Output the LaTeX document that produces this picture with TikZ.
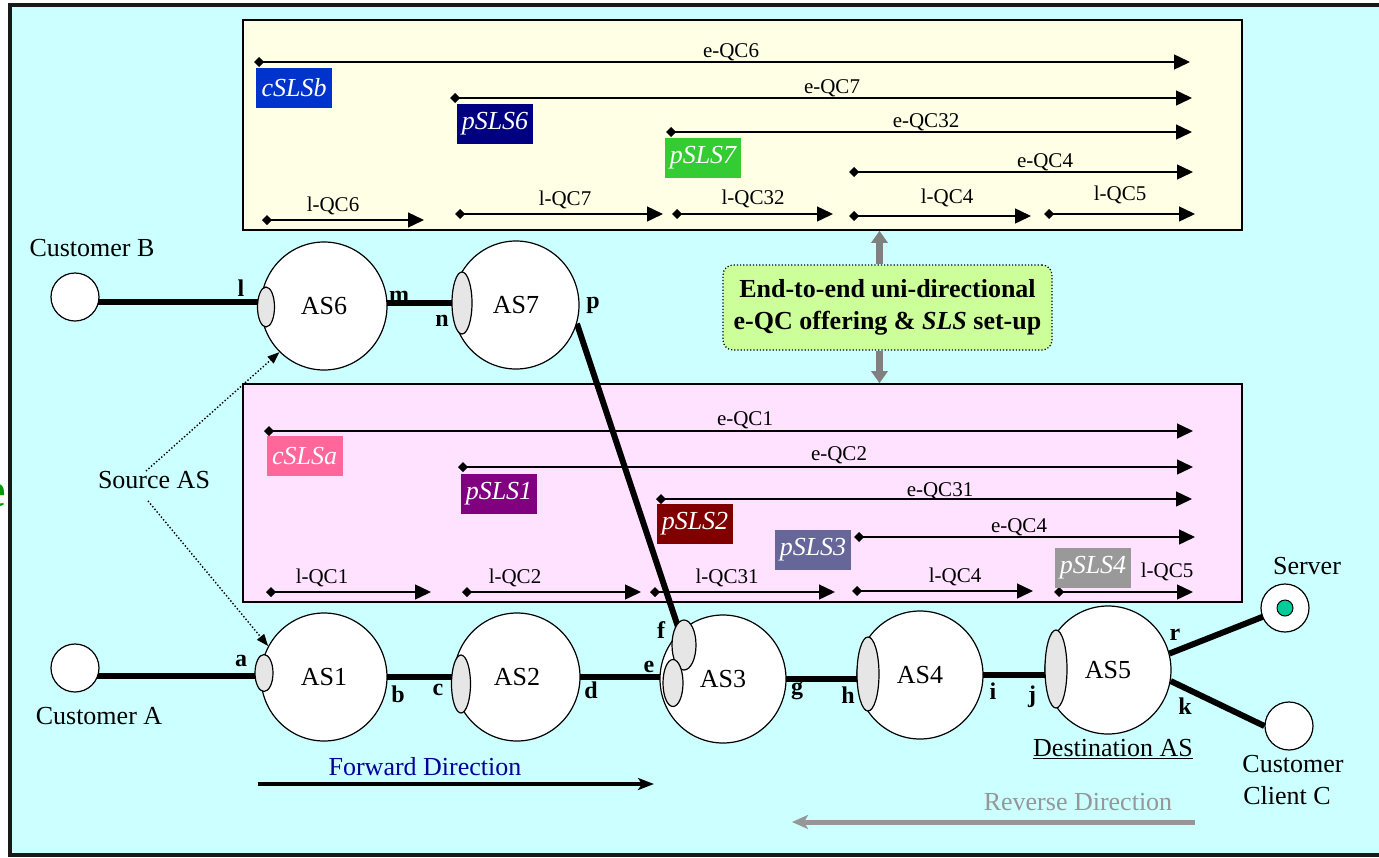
\documentclass[tikz,border=0pt]{standalone}
\usepackage{fontspec}
\setmainfont{Liberation Serif}
\usetikzlibrary{arrows.meta,shapes.geometric}
\pgfdeclarelayer{backlayer}
\pgfdeclarelayer{linklayer}
\pgfsetlayers{backlayer,linklayer,main}
\definecolor{cyanbg}{RGB}{204,255,255}
\definecolor{ybg}{RGB}{255,255,230}
\definecolor{pbg}{RGB}{255,226,255}
\definecolor{gbg}{RGB}{204,255,153}
\definecolor{portgray}{RGB}{230,230,230}
\definecolor{slsB}{RGB}{0,51,204}
\definecolor{slsSix}{RGB}{0,0,128}
\definecolor{slsSeven}{RGB}{51,204,51}
\definecolor{slsA}{RGB}{255,102,153}
\definecolor{slsOne}{RGB}{128,0,128}
\definecolor{slsTwo}{RGB}{128,0,0}
\definecolor{slsThree}{RGB}{102,102,153}
\definecolor{slsFour}{RGB}{153,153,153}
\definecolor{fwdblue}{RGB}{0,0,153}
\definecolor{revgray}{RGB}{150,150,150}
\definecolor{arrgray}{RGB}{128,128,128}
\definecolor{srvgreen}{RGB}{0,204,153}
\definecolor{edgegreen}{RGB}{0,153,0}
% name, x start (diamond centre), x tip, y, label, label x, label rise
\newcommand\qcarrow[7]{%
  \coordinate (#1s) at (#2-5,#4);
  \coordinate (#1e) at (#3,#4);
  \draw[qc] (#1s) -- (#1e);
  \node[qclab] (#1l) at (#6,#4-#7) {#5};
}
\tikzset{
  qc/.style={line width=1.4pt, {Diamond[length=10pt,width=10pt]}-{Triangle[length=16pt,width=15pt]}},
  qclab/.style={font=\fontsize{21}{25}\selectfont, inner sep=0pt, anchor=base},
  slsbox/.style={fill=#1, text=white, font=\fontsize{26}{30}\selectfont\itshape, minimum width=76pt, minimum height=40pt, inner sep=0pt},
  asnode/.style={ellipse, draw, fill=white, line width=1.2pt, minimum width=126pt, minimum height=128pt, inner sep=0pt, font=\fontsize{26}{30}\selectfont},
  port/.style 2 args={ellipse, draw, fill=portgray, line width=1.2pt, minimum width=#1, minimum height=#2, inner sep=0pt},
  cust/.style={circle, draw, fill=white, line width=1.2pt, minimum size=48pt, inner sep=0pt},
  lbl/.style={font=\fontsize{26}{30}\selectfont, inner sep=0pt},
  letter/.style={font=\fontsize{24}{28}\selectfont\bfseries, inner sep=0pt},
  link/.style={line width=6pt},
  srcarrow/.style={dotted, line width=1.4pt, -{Triangle[length=12pt,width=9pt]}},
  grayarrow/.style={draw=arrgray, line width=7pt, -{Triangle[length=12pt,width=16pt]}},
  panel/.style={draw, line width=1.6pt, minimum width=999pt, inner sep=0pt},
  midbox/.style={draw, dotted, line width=1.2pt, rounded corners=10pt, fill=gbg, minimum width=329pt, minimum height=85pt, align=center, inner sep=0pt, font=\fontsize{26}{32}\selectfont\bfseries},
}
\begin{document}
\begin{tikzpicture}[x=1pt,y=-1pt]
\useasboundingbox (0,0) rectangle (1379,857);

\begin{pgfonlayer}{backlayer}
  % stray glyph at the left edge
  \node[anchor=east, inner sep=0pt, text=edgegreen, font=\fontsize{48}{50}\selectfont\bfseries] (edgee) at (6,495) {e};
  % outer frame
  \draw[line width=4pt, draw=black!90, fill=cyanbg] (10,5) rectangle (1400,855);
  % panels
  \node[panel, fill=ybg, minimum height=210pt] (ybox) at (742.5,125) {};
  \node[panel, fill=pbg, minimum height=218pt] (pbox) at (742.5,493) {};

  % top panel
  \qcarrow{eSix}{259}{1190}{62}{e-QC6}{731}{5}
  \qcarrow{eSeven}{455}{1192}{98}{e-QC7}{832}{5}
  \qcarrow{eThirtyTwo}{671}{1192}{132}{e-QC32}{926}{5}
  \qcarrow{eFourT}{854}{1193}{172}{e-QC4}{1045}{5}
  \qcarrow{lSix}{267}{424}{220}{l-QC6}{333}{9}
  \qcarrow{lSeven}{460}{663}{214}{l-QC7}{565}{9}
  \qcarrow{lThirtyTwo}{677}{833}{214}{l-QC32}{753}{10}
  \qcarrow{lFourT}{854}{1031}{216}{l-QC4}{947}{13}
  \qcarrow{lFiveT}{1049}{1195}{214}{l-QC5}{1120}{14}
  \node[slsbox=slsB] (cslsb) at (294,88) {cSLSb};
  \node[slsbox=slsSix] (psls6) at (495,124) {pSLS6};
  \node[slsbox=slsSeven] (psls7) at (703,158) {pSLS7};

  % pink panel
  \qcarrow{eOne}{269}{1193}{431}{e-QC1}{745}{6}
  \qcarrow{eTwo}{463}{1193}{467}{e-QC2}{839}{7}
  \qcarrow{eThirtyOne}{661}{1192}{499}{e-QC31}{940}{3}
  \qcarrow{eFourP}{859}{1195}{537}{e-QC4}{1019}{5}
  \qcarrow{lOne}{271}{431}{592}{l-QC1}{322}{9}
  \qcarrow{lTwo}{467}{641}{592}{l-QC2}{515}{9}
  \qcarrow{lThirtyOne}{655}{835}{592}{l-QC31}{727}{9}
  \qcarrow{lFourP}{857}{1033}{591}{l-QC4}{955}{9}
  \qcarrow{lFiveP}{1059}{1193}{592}{l-QC5}{1167}{15}
  \node[slsbox=slsA] (cslsa) at (304.5,456) {cSLSa};
  \node[slsbox=slsOne] (psls1) at (499,494) {pSLS1};
  \node[slsbox=slsTwo] (psls2) at (695,524) {pSLS2};
  \node[slsbox=slsThree] (psls3) at (813,550) {pSLS3};
  \node[slsbox=slsFour] (psls4) at (1093,568) {pSLS4};
\end{pgfonlayer}

% customers and ASes
\node[cust] (custB) at (75,297) {};
\node[cust] (custA) at (75,668) {};
\node[cust] (server) at (1285,608) {};
\node[circle, draw, fill=srvgreen, line width=1pt, minimum size=16pt, inner sep=0pt] (srvdot) at (server.center) {};
\node[cust] (clientC) at (1289,726) {};

\node[asnode] (as6) at (324,306) {AS6};
\node[asnode] (as7) at (516,305) {AS7};
\node[asnode] (as1) at (324,677) {AS1};
\node[asnode] (as2) at (517,677) {AS2};
\node[asnode] (as3) at (723,679) {AS3};
\node[asnode] (as4) at (920,675) {AS4};
\node[asnode] (as5) at (1108,670) {AS5};

% ports
\node[port={17pt}{40pt}] (pl) at (266,307) {};
\node[port={20pt}{62pt}] (pn) at (462,303) {};
\node[port={18pt}{37pt}] (pa) at (264,673) {};
\node[port={19pt}{58pt}] (pc) at (461,684) {};
\node[port={24pt}{50pt}] (pf) at (684,645) {};
\node[port={20pt}{47pt}] (pe) at (673,683) {};
\node[port={22pt}{74pt}] (ph) at (868,674) {};
\node[port={22pt}{78pt}] (pj) at (1056,669) {};

% links
\begin{pgfonlayer}{linklayer}
  \draw[link] ([yshift=-5pt]custB.center) -- ([yshift=-5pt]custB.center -| pl.center);
  \draw[link] ([yshift=3pt]as6.center) -- ([yshift=3pt]as6.center -| pn.center);
  \draw[link] (as7.-17) -- (pf.center);
  \draw[link] ([yshift=-8pt]custA.center) -- ([yshift=-8pt]custA.center -| pa.center);
  \draw[link] (as1.center) -- (as1.center -| pc.center);
  \draw[link] (as2.center) -- (as2.center -| pe.center);
  \draw[link] (as3.center) -- (as3.center -| ph.center);
  \draw[link] (as4.center) -- (as4.center -| pj.center);
  \draw[link] (as5.15) -- (server.center);
  \draw[link] (as5.-10) -- (clientC.west);
\end{pgfonlayer}

% letters
\node[letter] (Ll) at (241,288) {l};
\node[letter] (Lm) at (399,297) {m};
\node[letter] (Ln) at (442,321) {n};
\node[letter] (Lp) at (593,305) {p};
\node[letter] (La) at (241,661) {a};
\node[letter] (Lb) at (398,694) {b};
\node[letter] (Lc) at (438,690) {c};
\node[letter] (Ld) at (591,690) {d};
\node[letter] (Le) at (649,667) {e};
\node[letter] (Lf) at (661,630) {f};
\node[letter] (Lg) at (797,691) {g};
\node[letter] (Lh) at (848,695) {h};
\node[letter] (Li) at (993,691) {i};
\node[letter] (Lj) at (1032,697) {j};
\node[letter] (Lr) at (1175,635) {r};
\node[letter] (Lk) at (1185,706) {k};

% text labels
\node[lbl] (tcustB) at (92,248) {Customer B};
\node[lbl] (tcustA) at (99,716) {Customer A};
\node[lbl] (tserver) at (1307,566) {Server};
\node[lbl] (tcust) at (1293,764) {Customer};
\node[lbl] (tclient) at (1287,796) {Client C};
\node[lbl] (src) at (154,480) {Source AS};
\node[lbl] (dest) at (1113,749) {\underline{Destination AS}};

\draw[srcarrow] ([xshift=-8pt]src.north) -- (as6.226);
\draw[srcarrow] ([xshift=-6pt,yshift=-12pt]src.south) -- (as1.151);

% middle box
\node[midbox] (mid) at (887.5,307.5) {End-to-end uni-directional\\e-QC offering \& \textit{SLS} set-up};
\draw[grayarrow] ([xshift=-8pt]mid.north) -- ([xshift=-8pt]mid.north |- ybox.south);
\draw[grayarrow] ([xshift=-8pt]mid.south) -- ([xshift=-8pt]mid.south |- pbox.north);

% directions
\node[lbl, text=fwdblue] (fwd) at (425,767) {Forward Direction};
\coordinate (fwdS) at (258,784);
\coordinate (fwdE) at (654,784);
\draw[line width=3.5pt, -{Stealth[length=16pt,width=12pt,inset=4pt]}] (fwdS) -- (fwdE);
\node[lbl, text=revgray] (rev) at (1078,802) {Reverse Direction};
\coordinate (revS) at (1195,822);
\coordinate (revE) at (792,822);
\draw[line width=5pt, draw=revgray, -{Stealth[length=16pt,width=14pt,inset=4pt]}] (revS) -- (revE);
\end{tikzpicture}
\end{document}
